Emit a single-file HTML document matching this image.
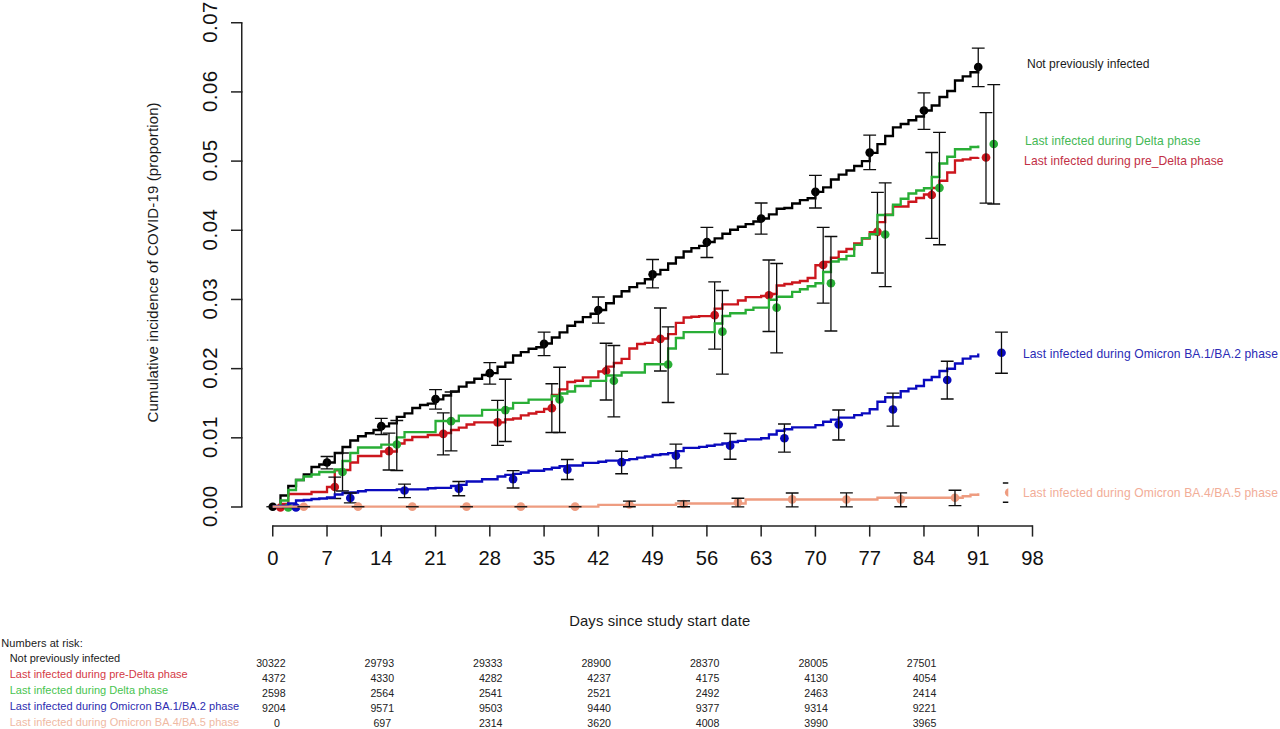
<!DOCTYPE html>
<html><head><meta charset="utf-8"><title>Cumulative incidence of COVID-19</title>
<style>html,body{margin:0;padding:0;background:#fff;}body{width:1280px;height:729px;overflow:hidden;font-family:"Liberation Sans",sans-serif;}svg{display:block;}</style></head>
<body>
<svg width="1280" height="729" viewBox="0 0 1280 729" font-family="'Liberation Sans', sans-serif">
<rect width="1280" height="729" fill="#ffffff"/>
<defs><clipPath id="cp"><rect x="241" y="0" width="767.3" height="527"/></clipPath></defs>
<g stroke="#222222" stroke-width="1.5" fill="none" stroke-linecap="butt">
<path d="M241.75,22.74V507.00"/>
<path d="M231,507.00H242.5"/>
<path d="M231,437.82H242.5"/>
<path d="M231,368.64H242.5"/>
<path d="M231,299.46H242.5"/>
<path d="M231,230.28H242.5"/>
<path d="M231,161.10H242.5"/>
<path d="M231,91.92H242.5"/>
<path d="M231,22.74H242.5"/>
<path d="M272.75,526H1032.50"/>
<path d="M272.75,525.25V536.6"/>
<path d="M327.02,525.25V536.6"/>
<path d="M381.29,525.25V536.6"/>
<path d="M435.55,525.25V536.6"/>
<path d="M489.82,525.25V536.6"/>
<path d="M544.09,525.25V536.6"/>
<path d="M598.36,525.25V536.6"/>
<path d="M652.63,525.25V536.6"/>
<path d="M706.90,525.25V536.6"/>
<path d="M761.16,525.25V536.6"/>
<path d="M815.43,525.25V536.6"/>
<path d="M869.70,525.25V536.6"/>
<path d="M923.97,525.25V536.6"/>
<path d="M978.24,525.25V536.6"/>
<path d="M1032.50,525.25V536.6"/>
</g>
<g fill="#111111" font-size="20.5px">
<text transform="translate(217.2,527.10) rotate(-90)" textLength="41.3" lengthAdjust="spacing">0.00</text>
<text transform="translate(217.2,457.92) rotate(-90)" textLength="41.3" lengthAdjust="spacing">0.01</text>
<text transform="translate(217.2,388.74) rotate(-90)" textLength="41.3" lengthAdjust="spacing">0.02</text>
<text transform="translate(217.2,319.56) rotate(-90)" textLength="41.3" lengthAdjust="spacing">0.03</text>
<text transform="translate(217.2,250.38) rotate(-90)" textLength="41.3" lengthAdjust="spacing">0.04</text>
<text transform="translate(217.2,181.20) rotate(-90)" textLength="41.3" lengthAdjust="spacing">0.05</text>
<text transform="translate(217.2,112.02) rotate(-90)" textLength="41.3" lengthAdjust="spacing">0.06</text>
<text transform="translate(217.2,42.84) rotate(-90)" textLength="41.3" lengthAdjust="spacing">0.07</text>
</g>
<g fill="#111111" font-size="20.2px">
<text x="272.75" y="565" text-anchor="middle">0</text>
<text x="327.02" y="565" text-anchor="middle">7</text>
<text x="381.29" y="565" text-anchor="middle">14</text>
<text x="435.55" y="565" text-anchor="middle">21</text>
<text x="489.82" y="565" text-anchor="middle">28</text>
<text x="544.09" y="565" text-anchor="middle">35</text>
<text x="598.36" y="565" text-anchor="middle">42</text>
<text x="652.63" y="565" text-anchor="middle">49</text>
<text x="706.90" y="565" text-anchor="middle">56</text>
<text x="761.16" y="565" text-anchor="middle">63</text>
<text x="815.43" y="565" text-anchor="middle">70</text>
<text x="869.70" y="565" text-anchor="middle">77</text>
<text x="923.97" y="565" text-anchor="middle">84</text>
<text x="978.24" y="565" text-anchor="middle">91</text>
<text x="1032.50" y="565" text-anchor="middle">98</text>
</g>
<text x="569.20" y="625.60" font-size="14.8px" textLength="181" lengthAdjust="spacing" fill="#1a1a1a">Days since study start date</text>
<text transform="translate(158.2,422.40) rotate(-90)" font-size="15px" textLength="320" lengthAdjust="spacing" fill="#1a1a1a">Cumulative incidence of COVID-19 (proportion)</text>
<g clip-path="url(#cp)">
<path d="M272.75,506.50H280.50V495.50H288.26V486.00H296.01V480.00H303.76V474.50H311.51V467.00H319.27V464.50H327.02V462.50H334.77V453.00H342.52V447.00H350.28V440.50H358.03V436.25H365.78V433.25H373.53V430.00H381.29V426.30H389.04V423.30H396.79V416.80H404.54V413.30H412.30V408.00H420.05V405.00H427.80V403.70H435.55V399.30H443.31V395.50H451.06V391.50H458.81V386.70H466.56V382.50H474.32V378.75H482.07V375.00H489.82V373.20H497.58V366.75H505.33V362.70H513.08V355.50H520.83V352.20H528.59V348.75H536.34V347.25H544.09V343.50H551.84V337.50H559.60V332.40H567.35V325.75H575.10V322.00H582.85V317.20H590.61V313.75H598.36V310.00H606.11V303.25H613.86V296.50H621.62V291.25H629.37V287.20H637.12V283.30H644.87V279.25H652.63V274.30H660.38V269.80H668.13V263.50H675.89V257.50H683.64V251.50H691.39V248.20H699.14V245.80H706.90V242.00H714.65V238.30H722.40V233.75H730.15V229.75H737.91V226.75H745.66V224.20H753.41V221.50H761.16V218.50H768.92V214.30H776.67V208.75H784.42V208.00H792.17V203.50H799.93V200.20H807.68V198.25H815.43V191.80H823.18V187.30H830.94V179.50H838.69V174.70H846.44V170.50H854.20V166.00H861.95V161.20H869.70V152.80H877.45V144.10H885.21V136.00H892.96V127.30H900.71V124.00H908.46V120.25H916.22V116.50H923.97V110.50H931.72V105.50H939.47V97.00H947.23V91.00H954.98V80.50H962.73V76.30H970.48V72.25H978.24V69.00" stroke="#000000" fill="none" stroke-width="2.3" stroke-linejoin="miter"/>
<circle cx="272.75" cy="506.75" r="4.35" fill="#000000"/>
<circle cx="327.02" cy="462.50" r="4.35" fill="#000000"/>
<circle cx="381.29" cy="426.20" r="4.35" fill="#000000"/>
<circle cx="435.55" cy="399.20" r="4.35" fill="#000000"/>
<circle cx="489.82" cy="373.20" r="4.35" fill="#000000"/>
<circle cx="544.09" cy="343.80" r="4.35" fill="#000000"/>
<circle cx="598.36" cy="310.00" r="4.35" fill="#000000"/>
<circle cx="652.63" cy="274.30" r="4.35" fill="#000000"/>
<circle cx="706.90" cy="242.20" r="4.35" fill="#000000"/>
<circle cx="761.16" cy="218.50" r="4.35" fill="#000000"/>
<circle cx="815.43" cy="191.80" r="4.35" fill="#000000"/>
<circle cx="869.70" cy="152.60" r="4.35" fill="#000000"/>
<circle cx="923.97" cy="110.50" r="4.35" fill="#000000"/>
<circle cx="978.24" cy="67.00" r="4.35" fill="#000000"/>
<g stroke="#0d0d0d" stroke-width="1.3" fill="none">
<path d="M266.35,506.75H279.15"/>
<path d="M327.02,456.50V468.80M320.62,456.50H333.42M320.62,468.80H333.42"/>
<path d="M381.29,418.40V434.50M374.89,418.40H387.69M374.89,434.50H387.69"/>
<path d="M435.55,389.70V409.10M429.15,389.70H441.95M429.15,409.10H441.95"/>
<path d="M489.82,362.70V384.10M483.42,362.70H496.22M483.42,384.10H496.22"/>
<path d="M544.09,332.10V355.70M537.69,332.10H550.49M537.69,355.70H550.49"/>
<path d="M598.36,297.00V323.10M591.96,297.00H604.76M591.96,323.10H604.76"/>
<path d="M652.63,259.50V287.80M646.23,259.50H659.03M646.23,287.80H659.03"/>
<path d="M706.90,227.40V257.50M700.50,227.40H713.30M700.50,257.50H713.30"/>
<path d="M761.16,203.00V234.20M754.76,203.00H767.56M754.76,234.20H767.56"/>
<path d="M815.43,175.30V208.00M809.03,175.30H821.83M809.03,208.00H821.83"/>
<path d="M869.70,135.20V169.60M863.30,135.20H876.10M863.30,169.60H876.10"/>
<path d="M923.97,92.80V129.30M917.57,92.80H930.37M917.57,129.30H930.37"/>
<path d="M978.24,48.20V86.70M971.84,48.20H984.64M971.84,86.70H984.64"/>
</g>
<path d="M272.75,506.50H280.50V504.00H288.26V494.00H296.01V494.00H303.76V494.00H311.51V492.00H319.27V492.00H327.02V487.00H334.77V470.30H342.52V470.00H350.28V462.50H358.03V456.00H365.78V456.00H373.53V456.00H381.29V451.50H389.04V451.50H396.79V443.50H404.54V440.00H412.30V437.00H420.05V437.00H427.80V435.00H435.55V435.00H443.31V433.00H451.06V430.00H458.81V427.70H466.56V424.50H474.32V422.40H482.07V422.40H489.82V422.40H497.58V422.40H505.33V419.50H513.08V418.50H520.83V415.30H528.59V413.50H536.34V411.80H544.09V409.00H551.84V394.80H559.60V389.30H567.35V382.00H575.10V380.75H582.85V377.30H590.61V377.30H598.36V371.50H606.11V366.60H613.86V363.00H621.62V358.80H629.37V348.50H637.12V344.00H644.87V342.80H652.63V339.50H660.38V338.50H668.13V334.20H675.89V322.90H683.64V317.50H691.39V316.75H699.14V316.20H706.90V316.20H714.65V308.60H722.40V304.30H730.15V304.30H737.91V300.50H745.66V297.20H753.41V297.20H761.16V296.00H768.92V294.00H776.67V285.50H784.42V284.00H792.17V282.50H799.93V281.00H807.68V278.00H815.43V265.25H823.18V262.00H830.94V257.75H838.69V251.75H846.44V249.00H854.20V243.40H861.95V238.50H869.70V232.10H877.45V222.20H885.21V214.60H892.96V206.50H900.71V206.50H908.46V201.75H916.22V198.00H923.97V194.50H931.72V188.00H939.47V180.75H947.23V172.50H954.98V160.50H962.73V159.30H970.48V157.80H978.24V157.20" stroke="#cc161d" fill="none" stroke-width="2.3" stroke-linejoin="miter"/>
<circle cx="280.50" cy="507.50" r="4.35" fill="#cc161d"/>
<circle cx="334.77" cy="487.00" r="4.35" fill="#cc161d"/>
<circle cx="389.04" cy="451.20" r="4.35" fill="#cc161d"/>
<circle cx="443.31" cy="433.80" r="4.35" fill="#cc161d"/>
<circle cx="497.58" cy="422.40" r="4.35" fill="#cc161d"/>
<circle cx="551.84" cy="408.20" r="4.35" fill="#cc161d"/>
<circle cx="606.11" cy="371.00" r="4.35" fill="#cc161d"/>
<circle cx="660.38" cy="338.80" r="4.35" fill="#cc161d"/>
<circle cx="714.65" cy="315.20" r="4.35" fill="#cc161d"/>
<circle cx="768.92" cy="295.25" r="4.35" fill="#cc161d"/>
<circle cx="823.18" cy="265.00" r="4.35" fill="#cc161d"/>
<circle cx="877.45" cy="231.90" r="4.35" fill="#cc161d"/>
<circle cx="931.72" cy="195.00" r="4.35" fill="#cc161d"/>
<circle cx="985.99" cy="157.50" r="4.35" fill="#cc161d"/>
<g stroke="#0d0d0d" stroke-width="1.3" fill="none">
<path d="M274.10,507.50H286.90"/>
<path d="M334.77,477.20V498.50M328.37,477.20H341.17M328.37,498.50H341.17"/>
<path d="M389.04,433.10V470.00M382.64,433.10H395.44M382.64,470.00H395.44"/>
<path d="M443.31,412.80V454.80M436.91,412.80H449.71M436.91,454.80H449.71"/>
<path d="M497.58,400.30V445.30M491.18,400.30H503.98M491.18,445.30H503.98"/>
<path d="M551.84,383.75V432.50M545.44,383.75H558.24M545.44,432.50H558.24"/>
<path d="M606.11,343.25V400.00M599.71,343.25H612.51M599.71,400.00H612.51"/>
<path d="M660.38,308.00V371.00M653.98,308.00H666.78M653.98,371.00H666.78"/>
<path d="M714.65,281.90V349.20M708.25,281.90H721.05M708.25,349.20H721.05"/>
<path d="M768.92,260.00V331.50M762.52,260.00H775.32M762.52,331.50H775.32"/>
<path d="M823.18,227.40V303.10M816.78,227.40H829.58M816.78,303.10H829.58"/>
<path d="M877.45,192.40V273.00M871.05,192.40H883.85M871.05,273.00H883.85"/>
<path d="M931.72,152.50V238.30M925.32,152.50H938.12M925.32,238.30H938.12"/>
<path d="M985.99,112.60V203.10M979.59,112.60H992.39M979.59,203.10H992.39"/>
</g>
<path d="M272.75,506.50H280.50V500.50H288.26V490.00H296.01V480.00H303.76V476.50H311.51V474.50H319.27V472.00H327.02V472.00H334.77V469.50H342.52V461.00H350.28V453.00H358.03V447.50H365.78V447.50H373.53V447.50H381.29V444.60H389.04V444.60H396.79V437.40H404.54V432.20H412.30V432.20H420.05V432.20H427.80V432.20H435.55V421.00H443.31V421.00H451.06V421.00H458.81V415.70H466.56V415.70H474.32V415.70H482.07V409.80H489.82V409.80H497.58V409.80H505.33V408.50H513.08V402.80H520.83V402.80H528.59V399.70H536.34V399.70H544.09V399.70H551.84V396.00H559.60V393.50H567.35V391.50H575.10V386.00H582.85V386.00H590.61V380.90H598.36V380.90H606.11V375.50H613.86V375.50H621.62V372.50H629.37V372.50H637.12V372.50H644.87V364.25H652.63V364.25H660.38V364.25H668.13V348.50H675.89V338.00H683.64V332.10H691.39V332.10H699.14V332.10H706.90V332.10H714.65V323.50H722.40V316.00H730.15V313.25H737.91V313.25H745.66V309.80H753.41V307.70H761.16V307.70H768.92V299.75H776.67V296.75H784.42V296.75H792.17V291.80H799.93V289.25H807.68V286.25H815.43V283.25H823.18V272.00H830.94V261.50H838.69V259.25H846.44V255.90H854.20V244.90H861.95V238.10H869.70V234.25H877.45V215.00H885.21V215.00H892.96V204.75H900.71V198.75H908.46V193.50H916.22V190.50H923.97V188.25H931.72V177.00H939.47V163.50H947.23V156.75H954.98V149.25H962.73V149.25H970.48V147.00H978.24V145.50" stroke="#29ae36" fill="none" stroke-width="2.3" stroke-linejoin="miter"/>
<circle cx="288.26" cy="507.50" r="4.35" fill="#29ae36"/>
<circle cx="342.52" cy="472.00" r="4.35" fill="#29ae36"/>
<circle cx="396.79" cy="444.50" r="4.35" fill="#29ae36"/>
<circle cx="451.06" cy="421.20" r="4.35" fill="#29ae36"/>
<circle cx="505.33" cy="410.10" r="4.35" fill="#29ae36"/>
<circle cx="559.60" cy="399.40" r="4.35" fill="#29ae36"/>
<circle cx="613.86" cy="380.75" r="4.35" fill="#29ae36"/>
<circle cx="668.13" cy="364.50" r="4.35" fill="#29ae36"/>
<circle cx="722.40" cy="331.70" r="4.35" fill="#29ae36"/>
<circle cx="776.67" cy="307.70" r="4.35" fill="#29ae36"/>
<circle cx="830.94" cy="283.25" r="4.35" fill="#29ae36"/>
<circle cx="885.21" cy="234.50" r="4.35" fill="#29ae36"/>
<circle cx="939.47" cy="187.80" r="4.35" fill="#29ae36"/>
<circle cx="993.74" cy="144.00" r="4.35" fill="#29ae36"/>
<g stroke="#0d0d0d" stroke-width="1.3" fill="none">
<path d="M281.86,507.50H294.66"/>
<path d="M342.52,453.00V491.00M336.12,453.00H348.92M336.12,491.00H348.92"/>
<path d="M396.79,420.50V470.50M390.39,420.50H403.19M390.39,470.50H403.19"/>
<path d="M451.06,392.00V450.90M444.66,392.00H457.46M444.66,450.90H457.46"/>
<path d="M505.33,379.25V441.50M498.93,379.25H511.73M498.93,441.50H511.73"/>
<path d="M559.60,367.25V432.50M553.20,367.25H566.00M553.20,432.50H566.00"/>
<path d="M613.86,345.50V416.90M607.46,345.50H620.26M607.46,416.90H620.26"/>
<path d="M668.13,326.80V402.50M661.73,326.80H674.53M661.73,402.50H674.53"/>
<path d="M722.40,290.50V374.10M716.00,290.50H728.80M716.00,374.10H728.80"/>
<path d="M776.67,263.50V352.80M770.27,263.50H783.07M770.27,352.80H783.07"/>
<path d="M830.94,236.50V331.00M824.54,236.50H837.34M824.54,331.00H837.34"/>
<path d="M885.21,182.90V286.70M878.81,182.90H891.61M878.81,286.70H891.61"/>
<path d="M939.47,132.30V244.75M933.07,132.30H945.87M933.07,244.75H945.87"/>
<path d="M993.74,84.60V204.00M987.34,84.60H1000.14M987.34,204.00H1000.14"/>
</g>
<path d="M272.75,506.50H280.50V506.00H288.26V503.50H296.01V500.50H303.76V500.00H311.51V499.00H319.27V498.50H327.02V497.50H334.77V494.50H342.52V493.00H350.28V492.50H358.03V491.25H365.78V490.20H373.53V490.20H381.29V490.20H389.04V490.20H396.79V489.30H404.54V489.30H412.30V489.30H420.05V489.30H427.80V488.25H435.55V487.80H443.31V487.80H451.06V486.00H458.81V484.80H466.56V481.50H474.32V481.50H482.07V479.25H489.82V479.25H497.58V476.50H505.33V474.80H513.08V473.90H520.83V472.50H528.59V470.75H536.34V470.75H544.09V469.25H551.84V467.75H559.60V466.25H567.35V465.50H575.10V465.50H582.85V462.80H590.61V462.80H598.36V461.75H606.11V460.70H613.86V460.70H621.62V460.20H629.37V459.20H637.12V457.70H644.87V456.50H652.63V455.00H660.38V454.25H668.13V453.20H675.89V451.10H683.64V447.90H691.39V447.90H699.14V446.80H706.90V445.75H714.65V444.70H722.40V443.50H730.15V442.00H737.91V440.80H745.66V439.30H753.41V439.30H761.16V438.25H768.92V434.50H776.67V430.75H784.42V429.25H792.17V427.30H799.93V427.30H807.68V427.30H815.43V425.20H823.18V421.75H830.94V419.60H838.69V417.60H846.44V417.60H854.20V415.10H861.95V413.30H869.70V409.25H877.45V401.75H885.21V397.25H892.96V397.25H900.71V391.25H908.46V388.70H916.22V386.00H923.97V380.00H931.72V377.00H939.47V371.00H947.23V368.75H954.98V363.50H962.73V358.70H970.48V356.30H978.24V353.50" stroke="#0a0abe" fill="none" stroke-width="2.3" stroke-linejoin="miter"/>
<circle cx="296.01" cy="507.50" r="4.35" fill="#0a0abe"/>
<circle cx="350.28" cy="498.00" r="4.35" fill="#0a0abe"/>
<circle cx="404.54" cy="490.50" r="4.35" fill="#0a0abe"/>
<circle cx="458.81" cy="488.70" r="4.35" fill="#0a0abe"/>
<circle cx="513.08" cy="479.10" r="4.35" fill="#0a0abe"/>
<circle cx="567.35" cy="469.70" r="4.35" fill="#0a0abe"/>
<circle cx="621.62" cy="462.20" r="4.35" fill="#0a0abe"/>
<circle cx="675.89" cy="455.60" r="4.35" fill="#0a0abe"/>
<circle cx="730.15" cy="445.75" r="4.35" fill="#0a0abe"/>
<circle cx="784.42" cy="438.25" r="4.35" fill="#0a0abe"/>
<circle cx="838.69" cy="424.50" r="4.35" fill="#0a0abe"/>
<circle cx="892.96" cy="409.50" r="4.35" fill="#0a0abe"/>
<circle cx="947.23" cy="380.00" r="4.35" fill="#0a0abe"/>
<circle cx="1001.49" cy="352.75" r="4.35" fill="#0a0abe"/>
<g stroke="#0d0d0d" stroke-width="1.3" fill="none">
<path d="M289.61,507.50H302.41"/>
<path d="M350.28,493.00V502.90M343.88,493.00H356.68M343.88,502.90H356.68"/>
<path d="M404.54,484.20V497.70M398.14,484.20H410.94M398.14,497.70H410.94"/>
<path d="M458.81,481.50V495.75M452.41,481.50H465.21M452.41,495.75H465.21"/>
<path d="M513.08,470.60V488.00M506.68,470.60H519.48M506.68,488.00H519.48"/>
<path d="M567.35,459.50V479.50M560.95,459.50H573.75M560.95,479.50H573.75"/>
<path d="M621.62,451.25V473.75M615.22,451.25H628.02M615.22,473.75H628.02"/>
<path d="M675.89,444.10V467.90M669.49,444.10H682.29M669.49,467.90H682.29"/>
<path d="M730.15,433.50V459.25M723.75,433.50H736.55M723.75,459.25H736.55"/>
<path d="M784.42,424.00V452.20M778.02,424.00H790.82M778.02,452.20H790.82"/>
<path d="M838.69,410.00V440.00M832.29,410.00H845.09M832.29,440.00H845.09"/>
<path d="M892.96,393.20V426.20M886.56,393.20H899.36M886.56,426.20H899.36"/>
<path d="M947.23,361.25V399.00M940.83,361.25H953.63M940.83,399.00H953.63"/>
<path d="M1001.49,332.20V373.25M995.09,332.20H1007.89M995.09,373.25H1007.89"/>
</g>
<path d="M272.75,506.70H280.50V506.70H288.26V506.70H296.01V506.70H303.76V506.70H311.51V506.70H319.27V506.70H327.02V506.70H334.77V506.70H342.52V506.70H350.28V506.70H358.03V506.70H365.78V506.70H373.53V506.70H381.29V506.70H389.04V506.70H396.79V506.70H404.54V506.70H412.30V506.70H420.05V506.70H427.80V506.70H435.55V506.70H443.31V506.70H451.06V506.70H458.81V506.70H466.56V506.70H474.32V506.70H482.07V506.70H489.82V506.70H497.58V506.70H505.33V506.70H513.08V506.70H520.83V506.70H528.59V506.70H536.34V506.70H544.09V506.70H551.84V506.70H559.60V506.70H567.35V506.70H575.10V506.70H582.85V506.70H590.61V506.70H598.36V504.80H606.11V504.80H613.86V504.80H621.62V504.80H629.37V504.80H637.12V504.80H644.87V504.80H652.63V504.80H660.38V504.80H668.13V504.80H675.89V503.50H683.64V503.50H691.39V503.50H699.14V503.50H706.90V503.50H714.65V503.50H722.40V503.50H730.15V503.50H737.91V503.50H745.66V499.50H753.41V499.50H761.16V499.50H768.92V499.50H776.67V499.50H784.42V499.50H792.17V499.50H799.93V499.50H807.68V499.50H815.43V499.50H823.18V499.50H830.94V499.50H838.69V499.50H846.44V499.50H854.20V499.50H861.95V499.50H869.70V499.50H877.45V497.75H885.21V497.75H892.96V497.75H900.71V497.75H908.46V497.75H916.22V497.75H923.97V497.75H931.72V497.75H939.47V497.75H947.23V497.75H954.98V497.75H962.73V496.25H970.48V494.75H978.24V493.25" stroke="#ee9c80" fill="none" stroke-width="2.3" stroke-linejoin="miter"/>
<circle cx="303.76" cy="506.75" r="4.35" fill="#ee9c80"/>
<circle cx="358.03" cy="506.70" r="4.35" fill="#ee9c80"/>
<circle cx="412.30" cy="506.70" r="4.35" fill="#ee9c80"/>
<circle cx="466.56" cy="506.70" r="4.35" fill="#ee9c80"/>
<circle cx="520.83" cy="506.70" r="4.35" fill="#ee9c80"/>
<circle cx="575.10" cy="506.70" r="4.35" fill="#ee9c80"/>
<circle cx="629.37" cy="504.50" r="4.35" fill="#ee9c80"/>
<circle cx="683.64" cy="504.00" r="4.35" fill="#ee9c80"/>
<circle cx="737.91" cy="502.30" r="4.35" fill="#ee9c80"/>
<circle cx="792.17" cy="499.30" r="4.35" fill="#ee9c80"/>
<circle cx="846.44" cy="499.50" r="4.35" fill="#ee9c80"/>
<circle cx="900.71" cy="499.30" r="4.35" fill="#ee9c80"/>
<circle cx="954.98" cy="497.75" r="4.35" fill="#ee9c80"/>
<circle cx="1009.25" cy="492.50" r="4.35" fill="#ee9c80"/>
<g stroke="#0d0d0d" stroke-width="1.3" fill="none">
<path d="M297.36,506.75H310.16"/>
<path d="M351.63,506.75H364.43"/>
<path d="M405.90,506.75H418.70"/>
<path d="M460.17,506.75H472.96"/>
<path d="M514.43,506.75H527.23"/>
<path d="M568.70,506.75H581.50"/>
<path d="M629.37,501.20V506.75M622.97,501.20H635.77M622.97,506.75H635.77"/>
<path d="M683.64,500.90V506.75M677.24,500.90H690.04M677.24,506.75H690.04"/>
<path d="M737.91,498.25V506.80M731.51,498.25H744.31M731.51,506.80H744.31"/>
<path d="M792.17,493.00V506.80M785.77,493.00H798.57M785.77,506.80H798.57"/>
<path d="M846.44,492.90V506.80M840.04,492.90H852.84M840.04,506.80H852.84"/>
<path d="M900.71,492.80V506.75M894.31,492.80H907.11M894.31,506.75H907.11"/>
<path d="M954.98,490.25V505.70M948.58,490.25H961.38M948.58,505.70H961.38"/>
<path d="M1002.85,483.00H1015.65M1002.85,502.25H1015.65"/>
</g>
</g>
<text x="1026.90" y="68.00" font-size="12.1px" textLength="122.5" lengthAdjust="spacing" fill="#1a1a1a">Not previously infected</text>
<text x="1024.90" y="144.50" font-size="12.1px" textLength="175.5" lengthAdjust="spacing" fill="#45b855">Last infected during Delta phase</text>
<text x="1024.10" y="164.90" font-size="12.1px" textLength="199.5" lengthAdjust="spacing" fill="#c22f45">Last infected during pre_Delta phase</text>
<text x="1022.90" y="358.20" font-size="12.1px" textLength="255" lengthAdjust="spacing" fill="#2a2ab5">Last infected during Omicron BA.1/BA.2 phase</text>
<text x="1022.90" y="497.00" font-size="12.1px" textLength="255" lengthAdjust="spacing" fill="#f2ad98">Last infected during Omicron BA.4/BA.5 phase</text>
<text x="1.20" y="647.00" font-size="11px" textLength="81.5" lengthAdjust="spacing" fill="#1a1a1a">Numbers at risk:</text>
<text x="9.70" y="662.00" font-size="11px" textLength="110.5" lengthAdjust="spacing" fill="#1a1a1a">Not previously infected</text>
<text x="9.70" y="678.00" font-size="11px" textLength="178" lengthAdjust="spacing" fill="#d43a46">Last infected during pre-Delta phase</text>
<text x="9.70" y="693.50" font-size="11px" textLength="158.5" lengthAdjust="spacing" fill="#48c450">Last infected during Delta phase</text>
<text x="9.70" y="709.50" font-size="11px" textLength="229.5" lengthAdjust="spacing" fill="#2c2cb0">Last infected during Omicron BA.1/BA.2 phase</text>
<text x="9.70" y="725.50" font-size="11px" textLength="229.5" lengthAdjust="spacing" fill="#efb9a3">Last infected during Omicron BA.4/BA.5 phase</text>
<g font-size="10.6px" fill="#222222" text-anchor="end">
<text x="285.60" y="666.6">30322</text>
<text x="394.05" y="666.6">29793</text>
<text x="502.50" y="666.6">29333</text>
<text x="610.95" y="666.6">28900</text>
<text x="719.40" y="666.6">28370</text>
<text x="827.85" y="666.6">28005</text>
<text x="936.30" y="666.6">27501</text>
<text x="285.60" y="681.6">4372</text>
<text x="394.05" y="681.6">4330</text>
<text x="502.50" y="681.6">4282</text>
<text x="610.95" y="681.6">4237</text>
<text x="719.40" y="681.6">4175</text>
<text x="827.85" y="681.6">4130</text>
<text x="936.30" y="681.6">4054</text>
<text x="285.60" y="696.6">2598</text>
<text x="394.05" y="696.6">2564</text>
<text x="502.50" y="696.6">2541</text>
<text x="610.95" y="696.6">2521</text>
<text x="719.40" y="696.6">2492</text>
<text x="827.85" y="696.6">2463</text>
<text x="936.30" y="696.6">2414</text>
<text x="285.60" y="711.6">9204</text>
<text x="394.05" y="711.6">9571</text>
<text x="502.50" y="711.6">9503</text>
<text x="610.95" y="711.6">9440</text>
<text x="719.40" y="711.6">9377</text>
<text x="827.85" y="711.6">9314</text>
<text x="936.30" y="711.6">9221</text>
<text x="280.00" y="726.5">0</text>
<text x="391.15" y="726.5">697</text>
<text x="502.50" y="726.5">2314</text>
<text x="610.95" y="726.5">3620</text>
<text x="719.40" y="726.5">4008</text>
<text x="827.85" y="726.5">3990</text>
<text x="936.30" y="726.5">3965</text>
</g>
</svg>
</body></html>
